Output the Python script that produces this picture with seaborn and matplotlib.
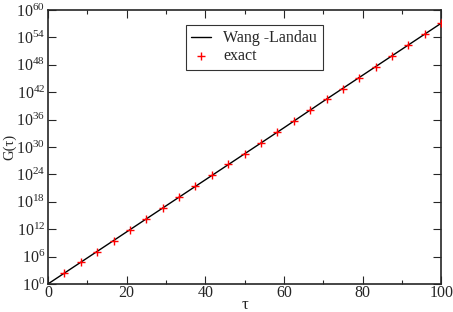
import numpy as np
import pandas as pd
import matplotlib
matplotlib.use('Agg')
import matplotlib.pyplot as plt
import matplotlib.ticker as mticker
import seaborn as sns

# Wang-Landau estimate (line) and exact values (markers), log10 G(tau)
wl_tau = [0, 10, 20, 30, 40, 50, 60, 70, 80, 90, 100]
wl_logg = [0.0, 5.7, 11.4, 17.1, 22.8, 28.5, 34.2, 40.0, 45.7, 51.4, 57.1]

exact_tau = [4.17, 8.33, 12.5, 16.67, 20.83, 25.0, 29.17, 33.33, 37.5, 41.67, 45.83, 50.0,
             54.17, 58.33, 62.5, 66.67, 70.83, 75.0, 79.17, 83.33, 87.5, 91.67, 95.83, 100.0]
exact_logg = [2.4, 4.8, 7.1, 9.5, 11.9, 14.3, 16.6, 19.0, 21.4, 23.8, 26.2, 28.5,
              30.9, 33.3, 35.7, 38.1, 40.4, 42.8, 45.2, 47.6, 50.0, 52.3, 54.7, 57.1]

sns.set_style('ticks')
plt.rcParams['font.family'] = ['Liberation Serif', 'DejaVu Serif']
plt.rcParams['mathtext.fontset'] = 'custom'
plt.rcParams['mathtext.rm'] = 'Liberation Serif'
plt.rcParams['mathtext.it'] = 'Liberation Serif:italic'

wl = pd.DataFrame({'tau': wl_tau, 'G': 10.0 ** np.array(wl_logg)})
ex = pd.DataFrame({'tau': exact_tau, 'G': 10.0 ** np.array(exact_logg)})

fig = plt.figure(figsize=(4.53, 3.12), dpi=100)
ax = fig.add_axes([0.106, 0.09, 0.868, 0.878])

sns.lineplot(data=wl, x='tau', y='G', ax=ax, color='black', linewidth=1, label='Wang -Landau')
sns.scatterplot(data=ex, x='tau', y='G', ax=ax, marker='+', color='red', s=32,
                linewidth=1.0, label='exact', zorder=3)

ax.set_yscale('log')
ax.set_xlim(0, 100)
ax.set_ylim(1, 1e60)
ax.xaxis.set_major_locator(mticker.MultipleLocator(20))
ax.xaxis.set_minor_locator(mticker.MultipleLocator(10))
ax.yaxis.set_major_locator(mticker.FixedLocator(10.0 ** np.arange(0, 61, 6)))
ax.yaxis.set_minor_locator(mticker.NullLocator())
ax.yaxis.set_major_formatter(mticker.FuncFormatter(lambda v, p: r'$10^{%d}$' % round(np.log10(v))))
ax.tick_params(which='both', direction='in', top=True, right=True, labelsize=11.5, width=0.8)
ax.tick_params(which='major', length=6)
ax.tick_params(which='minor', length=3)
ax.tick_params(axis='x', pad=1)
ax.tick_params(axis='y', pad=2)
for s in ax.spines.values():
    s.set_linewidth(1.2)

ax.set_xlabel('τ', fontsize=12, labelpad=-3)
ax.set_ylabel('G(τ)', fontsize=10.5, labelpad=0)

leg = ax.legend(loc='upper left', bbox_to_anchor=(0.33, 0.975), frameon=True, fancybox=False,
                edgecolor='black', fontsize=11.5, handlelength=1.2, borderpad=0.35,
                labelspacing=0.1, handletextpad=0.8)
leg.get_frame().set_linewidth(0.8)

fig.savefig('out.png', dpi=100)
